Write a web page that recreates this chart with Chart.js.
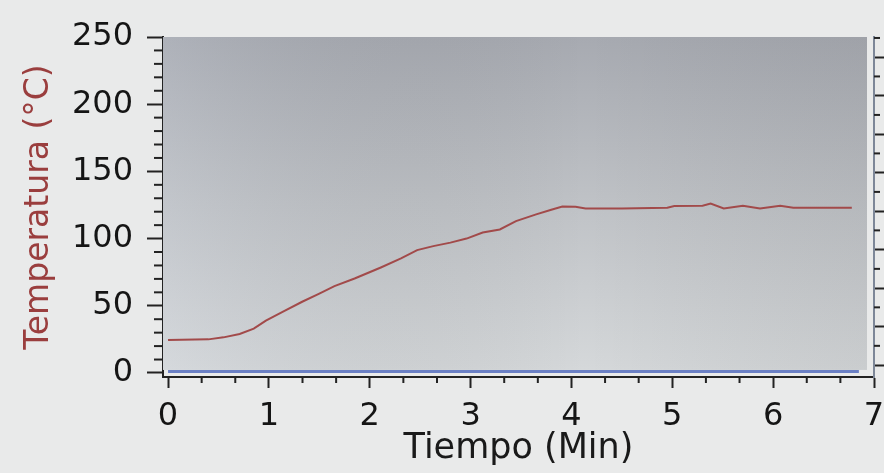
<!DOCTYPE html>
<html>
<head>
<meta charset="utf-8">
<script src="https://cdn.jsdelivr.net/npm/chart.js@4"></script>
<style>
  html, body { margin: 0; padding: 0; background: #e9eaea; }
  #wrap { width: 884px; height: 473px; }
</style>
</head>
<body>
<div id="wrap"><canvas id="c" width="884" height="473"></canvas></div>
<script>
// --- data ---
const timeMin = [0, 0.4, 0.55, 0.71, 0.85, 0.97, 1.15, 1.33, 1.5, 1.65, 1.85, 2.11, 2.31, 2.47, 2.63, 2.8, 2.96, 3.12, 3.29, 3.45, 3.65, 3.8, 3.91, 4.04, 4.14, 4.5, 4.95, 5.02, 5.3, 5.38, 5.51, 5.7, 5.87, 6.07, 6.2, 6.78];
const tempC   = [24.5, 25, 26.5, 29, 33, 39, 46, 53, 59, 64.6, 70.3, 78.5, 85.2, 91.4, 94.4, 97, 100, 104.5, 106.8, 113, 118, 121.5, 123.8, 123.6, 122.4, 122.4, 123, 124.2, 124.5, 126, 122.4, 124.5, 122.4, 124.5, 123, 123];
const baseTime = [0, 6.85];
const baseVal  = [1, 1];
const xTickLabels = ['0', '1', '2', '3', '4', '5', '6', '7'];
const yTickLabels = ['0', '50', '100', '150', '200', '250'];

const isInt = v => Math.abs(v - Math.round(v)) < 1e-6;
const xMajor = v => isInt(v);
const yMajor = v => isInt(v / 50);
const y2Major = v => isInt(v / 2);
const minorCfg = { x: { len: 6, major: xMajor }, y: { len: 9, major: yMajor }, y2: { len: 6, major: y2Major } };

const range = (a, b, step) => { const out = []; for (let k = 0; a + k * step <= b + 1e-9; k++) out.push({ value: a + k * step }); return out; };

const plotBg = {
  id: 'plotBg',
  beforeDatasetsDraw(chart) {
    const {ctx, chartArea: a, scales} = chart;
    const top = scales.y.getPixelForValue(250);
    const bottom = scales.y.getPixelForValue(0) - 3;
    const right = a.right - 7;
    ctx.save();
    const g = ctx.createLinearGradient(0, top, 0, bottom);
    g.addColorStop(0, '#a7aab1');
    g.addColorStop(0.5, '#bfc2c6');
    g.addColorStop(1, '#d5d8da');
    ctx.fillStyle = g;
    ctx.fillRect(a.left, top, right - a.left, bottom - top);
    const h = ctx.createLinearGradient(a.left, 0, right, 0);
    h.addColorStop(0, 'rgba(215,222,235,0.15)');
    h.addColorStop(0.6, 'rgba(0,0,0,0)');
    h.addColorStop(1, 'rgba(60,60,60,0.07)');
    ctx.fillStyle = h;
    ctx.fillRect(a.left, top, right - a.left, bottom - top);
    ctx.restore();
  }
};

const minorTicks = {
  id: 'minorTicks',
  afterDraw(chart) {
    const {ctx, chartArea: a} = chart;
    ctx.save();
    ctx.strokeStyle = '#222';
    ctx.lineWidth = 2;
    Object.keys(minorCfg).forEach(id => {
      const s = chart.scales[id];
      const cfg = minorCfg[id];
      if (!s) return;
      s.ticks.forEach((t, i) => {
        if (cfg.major(t.value)) return;
        const p = s.getPixelForTick(i);
        ctx.beginPath();
        if (id === 'x') { ctx.moveTo(p, a.bottom); ctx.lineTo(p, a.bottom + cfg.len); }
        else if (id === 'y') { ctx.moveTo(a.left, p); ctx.lineTo(a.left - cfg.len, p); }
        else { ctx.moveTo(a.right, p); ctx.lineTo(a.right + cfg.len, p); }
        ctx.stroke();
      });
    });
    ctx.restore();
  }
};

const tickCol = (major) => (c) => (c.tick && major(c.tick.value)) ? '#222' : 'rgba(0,0,0,0)';

new Chart(document.getElementById('c'), {
  type: 'line',
  data: {
    datasets: [
      {
        data: timeMin.map((t, i) => ({x: t, y: tempC[i]})),
        borderColor: '#a24a4a', borderWidth: 2, pointRadius: 0, tension: 0, fill: false
      },
      {
        data: baseTime.map((t, i) => ({x: t, y: baseVal[i]})),
        borderColor: '#6b80c4', borderWidth: 3, pointRadius: 0, tension: 0, fill: false
      }
    ]
  },
  options: {
    responsive: false,
    animation: false,
    devicePixelRatio: 1,
    layout: { padding: { top: 37, right: 0, bottom: 7, left: 0 } },
    plugins: { legend: { display: false }, tooltip: { enabled: false } },
    scales: {
      x: {
        type: 'linear', min: -0.05, max: 7,
        afterBuildTicks: s => { s.ticks = range(0, 7, 1/3); },
        afterFit: s => { s.height = 89; s.paddingRight = 0; s.paddingLeft = 0; },
        ticks: {
          autoSkip: false, maxRotation: 0, padding: 14,
          color: '#151515', font: { family: 'DejaVu Sans', size: 32, lineHeight: 0.92 },
          callback: v => isInt(v) ? xTickLabels[Math.round(v)] : ''
        },
        grid: { drawOnChartArea: false, drawTicks: true, tickLength: 11, tickWidth: 2, tickColor: tickCol(xMajor) },
        border: { display: true, color: '#222', width: 2 },
        title: { display: true, text: 'Tiempo (Min)', color: '#1a1a1a', font: { family: 'DejaVu Sans', size: 35, lineHeight: 1.0 }, padding: { top: 0, bottom: 0 } }
      },
      y: {
        type: 'linear', position: 'left', min: -3, max: 250,
        afterBuildTicks: s => { s.ticks = range(0, 250, 10); },
        afterFit: s => { s.width = 163; },
        ticks: {
          autoSkip: false, padding: 14,
          color: '#151515', font: { family: 'DejaVu Sans', size: 32 },
          callback: v => yMajor(v) ? yTickLabels[Math.round(v / 50)] : ''
        },
        grid: { drawOnChartArea: false, drawTicks: true, tickLength: 16, tickWidth: 2, tickColor: tickCol(yMajor) },
        border: { display: true, color: '#222', width: 2 },
        title: { display: true, text: 'Temperatura (°C)', color: '#9a3e3e', font: { family: 'DejaVu Sans', size: 33 }, padding: { top: 20, bottom: 0 } }
      },
      y2: {
        type: 'linear', position: 'right', min: -0.62, max: 17.05,
        afterBuildTicks: s => { s.ticks = range(0, 17, 1); },
        afterFit: s => { s.width = 10; },
        ticks: { display: false },
        grid: { drawOnChartArea: false, drawTicks: true, tickLength: 11, tickWidth: 2, tickColor: tickCol(y2Major) },
        border: { display: true, color: '#7d8798', width: 2 }
      }
    }
  },
  plugins: [plotBg, minorTicks]
});
</script>
</body>
</html>
